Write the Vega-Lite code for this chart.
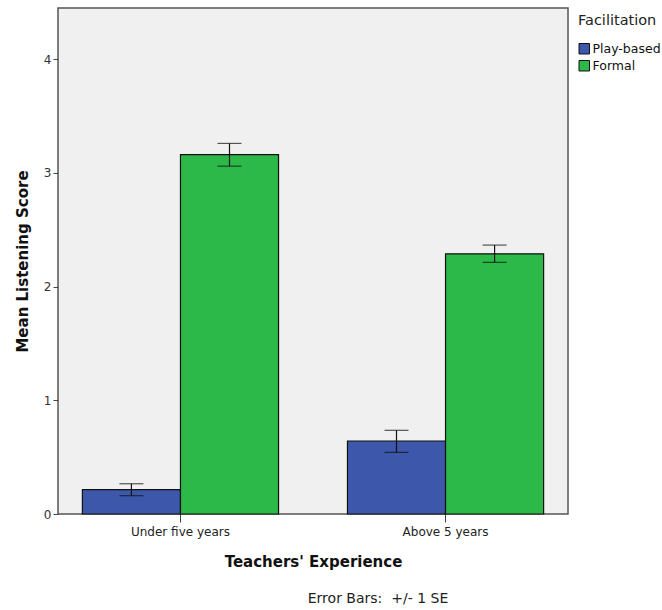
{
  "$schema": "https://vega.github.io/schema/vega-lite/v6.json",
  "width": 510,
  "height": 506,
  "autosize": "none",
  "padding": {"left": 58, "top": 8, "right": 94, "bottom": 96},
  "background": "white",
  "config": {
    "font": "DejaVu Sans",
    "view": {"fill": "#F0F0F0", "stroke": "#555555", "strokeWidth": 1.5}
  },
  "title": {
    "text": "Error Bars:\u00a0 +/- 1 SE",
    "orient": "bottom",
    "anchor": "middle",
    "dx": 65,
    "offset": 23,
    "fontSize": 14,
    "fontWeight": "normal",
    "color": "#222222"
  },
  "data": {
    "values": [
      {"Experience": "Under five years", "Facilitation": "Play-based", "mean": 0.214, "lo": 0.161, "hi": 0.266},
      {"Experience": "Under five years", "Facilitation": "Formal", "mean": 3.16, "lo": 3.059, "hi": 3.259},
      {"Experience": "Above 5 years", "Facilitation": "Play-based", "mean": 0.642, "lo": 0.542, "hi": 0.736},
      {"Experience": "Above 5 years", "Facilitation": "Formal", "mean": 2.288, "lo": 2.213, "hi": 2.365}
    ]
  },
  "encoding": {
    "x": {
      "field": "Experience",
      "type": "nominal",
      "sort": ["Under five years", "Above 5 years"],
      "scale": {"paddingInner": 0.26, "paddingOuter": 0.092},
      "axis": {
        "title": "Teachers' Experience",
        "titleFontSize": 15,
        "titleFontWeight": "bold",
        "titleColor": "#111111",
        "titlePadding": 17,
        "labelAngle": 0,
        "labelFontSize": 12,
        "labelColor": "#222222",
        "labelPadding": 4,
        "tickSize": 8,
        "tickColor": "#444444",
        "domain": false
      }
    },
    "xOffset": {
      "field": "Facilitation",
      "type": "nominal",
      "sort": ["Play-based", "Formal"],
      "scale": {"paddingInner": 0, "paddingOuter": 0}
    }
  },
  "layer": [
    {
      "mark": {"type": "bar", "stroke": "#111111", "strokeWidth": 1.2},
      "encoding": {
        "y": {
          "field": "mean",
          "type": "quantitative",
          "scale": {"domain": [0, 4.45], "nice": false},
          "axis": {
            "title": "Mean Listening Score",
            "titleFontSize": 15,
            "titleFontWeight": "bold",
            "titleColor": "#111111",
            "titlePadding": 13,
            "values": [0, 1, 2, 3, 4],
            "format": "d",
            "labelFontSize": 12,
            "labelColor": "#333333",
            "tickSize": 5,
            "tickColor": "#444444",
            "grid": false,
            "domain": false
          }
        },
        "color": {
          "field": "Facilitation",
          "type": "nominal",
          "sort": ["Play-based", "Formal"],
          "scale": {"domain": ["Play-based", "Formal"], "range": ["#3D57AB", "#2DB84A"]},
          "legend": {
            "orient": "none",
            "legendX": 520,
            "legendY": 6,
            "title": "Facilitation",
            "titleFontSize": 14.5,
            "titleFontWeight": "normal",
            "titleColor": "#222222",
            "titlePadding": 14,
            "labelFontSize": 12.5,
            "labelColor": "#111111",
            "labelOffset": 2,
            "symbolType": "square",
            "symbolSize": 110,
            "symbolStrokeColor": "#111111",
            "symbolStrokeWidth": 1,
            "rowPadding": 2
          }
        }
      }
    },
    {
      "mark": {"type": "rule", "color": "#111111", "strokeWidth": 1.2},
      "encoding": {
        "y": {"field": "lo", "type": "quantitative"},
        "y2": {"field": "hi"}
      }
    },
    {
      "mark": {"type": "tick", "color": "#111111", "size": 24, "thickness": 1.2, "orient": "horizontal"},
      "encoding": {
        "y": {"field": "lo", "type": "quantitative"}
      }
    },
    {
      "mark": {"type": "tick", "color": "#111111", "size": 24, "thickness": 1.2, "orient": "horizontal"},
      "encoding": {
        "y": {"field": "hi", "type": "quantitative"}
      }
    }
  ]
}
